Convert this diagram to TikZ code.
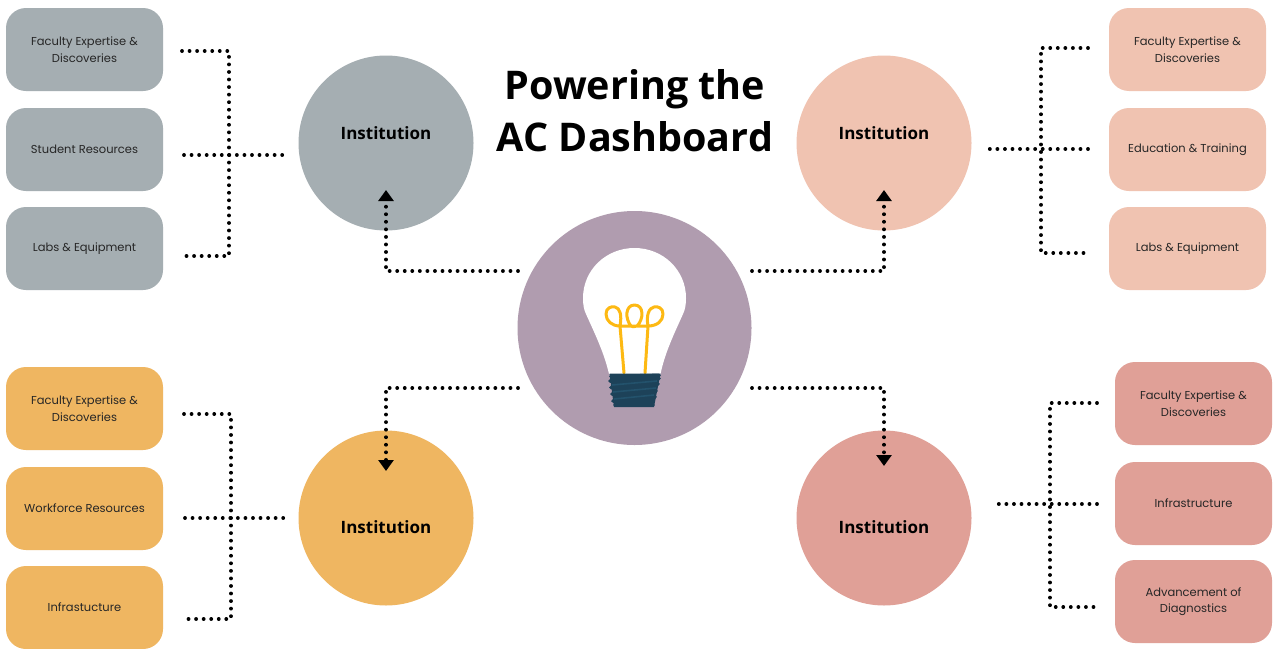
\documentclass[tikz,border=0pt]{standalone}
\usepackage{fontspec}
\setmainfont{Open Sans}
\newfontfamily\boxfont{Poppins}
\usetikzlibrary{arrows.meta}
\definecolor{cgrey}{HTML}{A5AEB2}
\definecolor{cpeach}{HTML}{F0C3B1}
\definecolor{corange}{HTML}{EFB661}
\definecolor{crose}{HTML}{E0A097}
\definecolor{cpurple}{HTML}{B09CAF}
\definecolor{cbase}{HTML}{1D4259}
\definecolor{cbase2}{HTML}{23526C}
\definecolor{cfil}{HTML}{FDB913}
\tikzset{
  itembox/.style={draw=none,rounded corners=20pt,minimum width=157pt,minimum height=83pt,inner sep=0pt,align=center,text=black!85,font=\boxfont\fontsize{11.5}{16.5}\selectfont},
  inst/.style={circle,draw=none,minimum size=175pt,inner sep=0pt},
  instlabel/.style={font=\bfseries\fontsize{17}{20}\selectfont,inner sep=0pt},
  dotline/.style={line width=3.8pt,line cap=round,dash pattern=on 0.02pt off 7.53pt,line join=round},
  dotarrow/.style={dotline,-{Triangle[width=15pt,length=11pt]}},
}
\begin{document}
\begin{tikzpicture}[x=1pt,y=-1pt]
\useasboundingbox (0,0) rectangle (1276,648);
\fill[white] (0,0) rectangle (1276,648);
% institutions
\node[inst,fill=cgrey]   (i1) at (386,143) {};
\node[inst,fill=cpeach]  (i2) at (884,143) {};
\node[inst,fill=corange] (i3) at (386,518) {};
\node[inst,fill=crose]   (i4) at (884,518) {};
\node[instlabel] (l1) at (386,133) {Institution};
\node[instlabel] (l2) at (884,133) {Institution};
\node[instlabel] (l3) at (386,527.5) {Institution};
\node[instlabel] (l4) at (884,527.5) {Institution};
% hub
\node[circle,fill=cpurple,draw=none,minimum size=234pt,inner sep=0pt] (hub) at (634.5,328) {};
% title
\node[font=\bfseries\fontsize{39.5}{52}\selectfont,align=center] (title) at (635,110.5) {Powering the\\AC Dashboard};
% bulb
\fill[white] (634.5,248) .. controls (606,248) and (583,270) .. (583,298)
  .. controls (583,305) and (584,310) .. (586,314)
  .. controls (594,332) and (604,352) .. (609,374) -- (660.5,374)
  .. controls (665,352) and (675,332) .. (683,314)
  .. controls (685,310) and (686,305) .. (686,298)
  .. controls (686,270) and (663,248) .. (634.5,248) -- cycle;
\draw[cfil,line cap=round,line join=round,line width=3pt] (624,373) -- (620,326) .. controls (612,326) and (606,321) .. (606,314)
  .. controls (606,308) and (611,306) .. (615,307) .. controls (620,308) and (622,315) .. (620,326)
  -- (631,326) .. controls (625,319) and (625,305) .. (634.5,305)
  .. controls (644,305) and (644,319) .. (637,326) .. controls (634,327) and (632,327) .. (631,326)
  -- (648,326) .. controls (646,315) and (649,308) .. (654,307) .. controls (658,306) and (663,308) .. (663,314)
  .. controls (663,321) and (657,326) .. (648,326) -- (645,373);
\fill[cbase] (609.5,373.5) -- (660.5,373.5) -- (654,407) -- (614,407) -- cycle;
\draw[cbase,line cap=round,line width=3.8pt]
  (611,376.5) -- (659,375.5) (610,381) -- (659,378.5) (611,387.5) -- (658,384) (612,394) -- (656,391) (613,401) -- (655,397) (615,405) -- (653,405);
\draw[cbase2,line width=1.6pt] (612,385) -- (657,381) (613,392) -- (656,388) (614,399) -- (654,395);
% item boxes
\node[itembox,fill=cgrey] (a1) at (84.5,49.5) {Faculty Expertise \&\\Discoveries};
\node[itembox,fill=cgrey] (a2) at (84.5,149.5) {Student Resources};
\node[itembox,fill=cgrey] (a3) at (84.5,248.5) {\vphantom{gy}Labs \& Equipment};
\node[itembox,fill=cpeach] (b1) at (1187.5,49.5) {Faculty Expertise \&\\Discoveries};
\node[itembox,fill=cpeach] (b2) at (1187.5,149.5) {\vphantom{gy}Education \& Training};
\node[itembox,fill=cpeach] (b3) at (1187.5,248.5) {\vphantom{gy}Labs \& Equipment};
\node[itembox,fill=corange] (c1) at (84.5,408.5) {Faculty Expertise \&\\Discoveries};
\node[itembox,fill=corange] (c2) at (84.5,508.5) {Workforce Resources};
\node[itembox,fill=corange] (c3) at (84.5,607.5) {Infrastucture};
\node[itembox,fill=crose] (d1) at (1193.5,403.5) {Faculty Expertise \&\\Discoveries};
\node[itembox,fill=crose] (d2) at (1193.5,503.5) {Infrastructure};
\node[itembox,fill=crose] (d3) at (1193.5,601.5) {Advancement of\\Diagnostics};
% free ends of the brackets
\coordinate (a1e) at (182,51); \coordinate (a1k) at (229,51);
\coordinate (a3e) at (183,256); \coordinate (a3k) at (229,256);
\coordinate (a2e) at (184,155); \coordinate (a2i) at (285,155);
\coordinate (b1e) at (1088,48); \coordinate (b1k) at (1041,48);
\coordinate (b3e) at (1089,253); \coordinate (b3k) at (1041,253);
\coordinate (b2e) at (1088,149); \coordinate (b2i) at (987,149);
\coordinate (c1e) at (184,414); \coordinate (c1k) at (231,414);
\coordinate (c3e) at (185,619); \coordinate (c3k) at (231,619);
\coordinate (c2e) at (185,518); \coordinate (c2i) at (287,518);
\coordinate (d1e) at (1097,403); \coordinate (d1k) at (1050,403);
\coordinate (d3e) at (1098,607); \coordinate (d3k) at (1050,607);
\coordinate (d2e) at (1097,504); \coordinate (d2i) at (995,504);
\draw[dotline] (a1e) -- (a1k) -- (a3k) -- (a3e);
\draw[dotline] (a2e) -- (a2i);
\draw[dotline] (b1e) -- (b1k) -- (b3k) -- (b3e);
\draw[dotline] (b2e) -- (b2i);
\draw[dotline] (c1e) -- (c1k) -- (c3k) -- (c3e);
\draw[dotline] (c2e) -- (c2i);
\draw[dotline] (d1e) -- (d1k) -- (d3k) -- (d3e);
\draw[dotline] (d2e) -- (d2i);
% hub connectors
\coordinate (h1) at (518,271); \coordinate (h2) at (752,271);
\coordinate (h3) at (518,388); \coordinate (h4) at (752,388);
\coordinate (t1) at (386,190); \coordinate (t2) at (884,190);
\coordinate (t3) at (386,471); \coordinate (t4) at (884,466);
\draw[dotarrow] (h1) -- (386,271) -- (t1);
\draw[dotarrow] (h2) -- (884,271) -- (t2);
\draw[dotarrow] (h3) -- (386,388) -- (t3);
\draw[dotarrow] (h4) -- (884,388) -- (t4);
\end{tikzpicture}
\end{document}
